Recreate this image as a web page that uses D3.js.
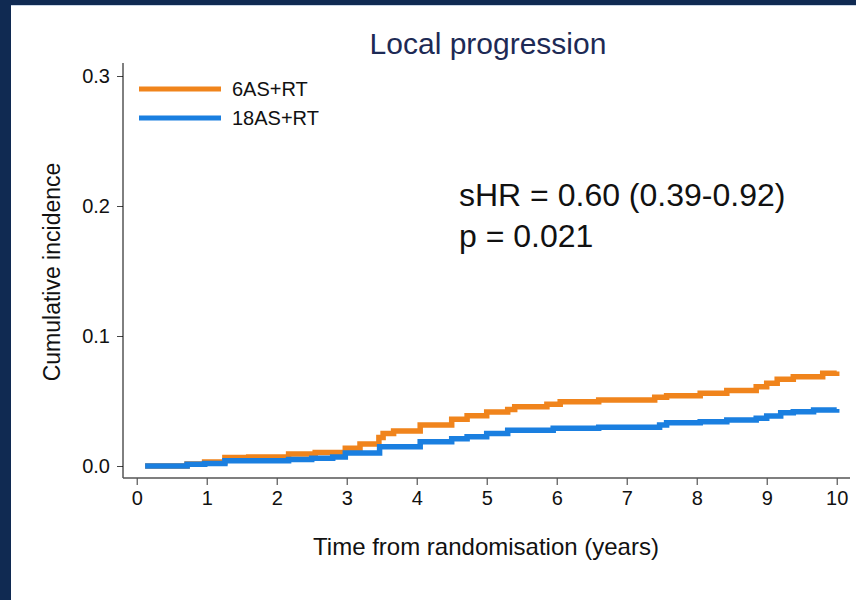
<!DOCTYPE html>
<html>
<head>
<meta charset="utf-8">
<script src="https://cdn.jsdelivr.net/npm/d3@7"></script>
<style>
  html, body { margin: 0; padding: 0; background: #fff; }
  svg { display: block; font-family: "Liberation Sans", Arial, sans-serif; }
</style>
</head>
<body>
<svg id="chart" width="856" height="600"></svg>
<script>
// Cumulative incidence of local progression by arm (time in years, incidence as proportion)
const seriesNames = ["6AS+RT", "18AS+RT"];
const seriesColors = ["#f0841c", "#1a7fe0"];

const timesShort = [0.12, 0.72, 0.97, 1.26, 1.6, 2.17, 2.55, 2.98, 3.19, 3.46, 3.52, 3.67, 4.05, 4.5, 4.72, 5.0, 5.3, 5.4, 5.86, 6.05, 6.6, 7.4, 7.57, 8.05, 8.43, 8.85, 9.0, 9.15, 9.38, 9.8, 10.0];
const incShort   = [0, 0.0015, 0.003, 0.0065, 0.007, 0.0092, 0.0104, 0.0136, 0.017, 0.022, 0.025, 0.027, 0.0315, 0.036, 0.0387, 0.0415, 0.0435, 0.0456, 0.0475, 0.0495, 0.0508, 0.0528, 0.054, 0.056, 0.058, 0.061, 0.0636, 0.0667, 0.0687, 0.0713, 0.0726];

const timesLong = [0.12, 0.72, 0.97, 1.26, 2.17, 2.5, 2.8, 2.98, 3.47, 4.05, 4.5, 4.72, 5.0, 5.3, 5.95, 6.6, 7.47, 7.57, 8.05, 8.43, 8.85, 9.0, 9.2, 9.38, 9.67, 10.0];
const incLong   = [0, 0.0013, 0.002, 0.004, 0.005, 0.006, 0.007, 0.010, 0.0149, 0.0187, 0.021, 0.0225, 0.025, 0.0275, 0.029, 0.0298, 0.0315, 0.0333, 0.034, 0.0354, 0.0367, 0.0385, 0.041, 0.0418, 0.043, 0.0438];

const xTicks = [0, 1, 2, 3, 4, 5, 6, 7, 8, 9, 10];
const yTicks = [0, 0.1, 0.2, 0.3];

const title = "Local progression";
const xLabel = "Time from randomisation (years)";
const yLabel = "Cumulative incidence";
const statLines = ["sHR = 0.60 (0.39-0.92)", "p = 0.021"];

const svg = d3.select("#chart");
const W = 856, H = 600;
const FONT = "Liberation Sans, Arial, sans-serif";

// page frame
svg.append("rect").attr("x", 0).attr("y", 0).attr("width", W).attr("height", H).attr("fill", "#fff");
svg.append("rect").attr("x", 0).attr("y", 0).attr("width", W).attr("height", 5).attr("fill", "#102a52");
svg.append("rect").attr("x", 0).attr("y", 5).attr("width", W).attr("height", 1).attr("fill", "#c9d6e6");
svg.append("rect").attr("x", 0).attr("y", 0).attr("width", 11).attr("height", H).attr("fill", "#102a52");

const x = d3.scaleLinear().domain([0, 10]).range([136.7, 836.7]);
const y = d3.scaleLinear().domain([0, 0.3]).range([466, 76]);

// title
svg.append("text")
  .attr("x", 488).attr("y", 54)
  .attr("text-anchor", "middle")
  .attr("font-size", 30)
  .attr("fill", "#1d2a55")
  .text(title);

// axes
const yAxis = d3.axisLeft(y).tickValues(yTicks).tickFormat(d3.format(".1f")).tickSize(6).tickPadding(7);
const gy = svg.append("g").attr("transform", "translate(123,0)").call(yAxis);
gy.select(".domain").remove();
gy.selectAll(".tick line").attr("stroke", "#444");
gy.selectAll(".tick text").attr("font-size", 20).attr("fill", "#111").attr("font-family", FONT);
svg.append("line").attr("x1", 123).attr("x2", 123).attr("y1", 63).attr("y2", 478).attr("stroke", "#000").attr("stroke-width", 1);

const xAxis = d3.axisBottom(x).tickValues(xTicks).tickFormat(d3.format("d")).tickSize(7).tickPadding(6);
const gx = svg.append("g").attr("transform", "translate(0,478)").call(xAxis);
gx.select(".domain").remove();
gx.selectAll(".tick line").attr("stroke", "#333");
gx.selectAll(".tick text").attr("font-size", 20).attr("fill", "#111").attr("font-family", FONT);
svg.append("line").attr("x1", 123).attr("x2", 850).attr("y1", 478).attr("y2", 478).attr("stroke", "#555").attr("stroke-width", 1.5);

// axis titles
svg.append("text")
  .attr("x", 486).attr("y", 555)
  .attr("text-anchor", "middle")
  .attr("font-size", 24)
  .attr("fill", "#111")
  .text(xLabel);
svg.append("text")
  .attr("transform", "translate(60,272) rotate(-90)")
  .attr("text-anchor", "middle")
  .attr("font-size", 23)
  .attr("fill", "#111")
  .text(yLabel);

// curves (step functions), 18AS+RT drawn on top
const line = d3.line().x(d => x(d[0])).y(d => y(d[1])).curve(d3.curveStepAfter);
const dataShort = timesShort.map((t, i) => [t, incShort[i]]);
const dataLong = timesLong.map((t, i) => [t, incLong[i]]);
[[dataShort, seriesColors[0]], [dataLong, seriesColors[1]]].forEach(([d, c]) => {
  svg.append("path").datum(d)
    .attr("d", line)
    .attr("fill", "none")
    .attr("stroke", c)
    .attr("stroke-width", 5.5);
});

// legend
const legY = [89, 118];
seriesNames.forEach((name, i) => {
  svg.append("line")
    .attr("x1", 139).attr("x2", 221)
    .attr("y1", legY[i]).attr("y2", legY[i])
    .attr("stroke", seriesColors[i]).attr("stroke-width", 5);
  svg.append("text")
    .attr("x", 232).attr("y", legY[i] + 7)
    .attr("font-size", 20)
    .attr("fill", "#111")
    .text(name);
});

// statistics annotation
statLines.forEach((s, i) => {
  svg.append("text")
    .attr("x", 459).attr("y", 206 + i * 41)
    .attr("font-size", 32)
    .attr("fill", "#111")
    .text(s);
});
</script>
</body>
</html>
